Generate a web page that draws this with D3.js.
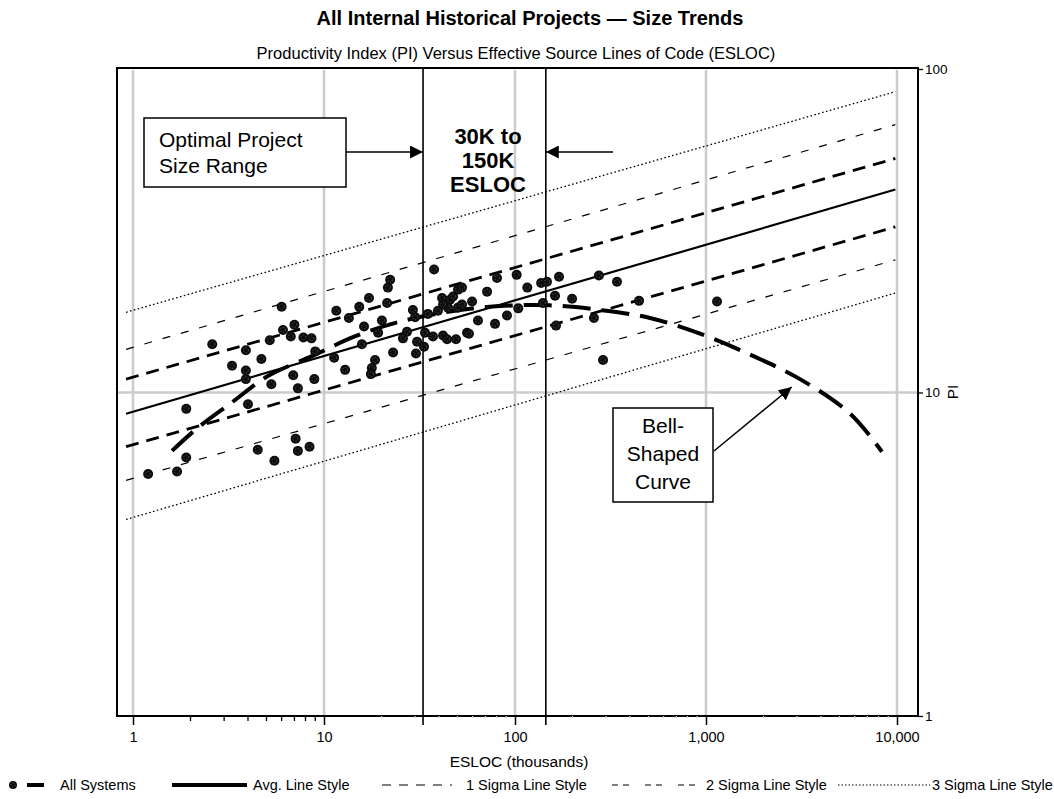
<!DOCTYPE html>
<html lang="en">
  <head>
    <meta charset="UTF-8"/>
    <title>All Internal Historical Projects — Size Trends</title>
    <script src="https://d3js.org/d3.v7.min.js"></script>
    <style>
      body { margin: 0; background: #fff; }
      text {
        font-family: 'Liberation Sans', Arial, sans-serif;
        fill: #000;
      }
      .title { font-size: 20px; font-weight: bold; }
      .subtitle { font-size: 16.5px; }
      .tick-label { font-size: 14.5px; }
      .y-label { font-size: 13.5px; }
      .axis-label { font-size: 15.5px; }
      .note { font-size: 21px; }
      .note-bold { font-size: 22px; font-weight: bold; }
      .legend text { font-size: 14.5px; }
    </style>
  </head>
  <body>
    <script type="text/javascript">

      // Trend lines: PI at the left and right end of the fitted range
      const trendX = [0.92, 9800]
      const avgLine = [8.6, 42.4]
      const sigma1Upper = [11.0, 52.9]
      const sigma1Lower = [6.8, 32.5]
      const sigma2Upper = [13.6, 67.3]
      const sigma2Lower = [5.35, 25.7]
      const sigma3Upper = [17.7, 85.1]
      const sigma3Lower = [4.05, 20.3]

      // Optimal project size range (thousands of ESLOC)
      const optimalRange = [33, 145]

      // Hand-drawn bell shaped curve [ESLOC, PI]
      const bellCurve = [
        [1.6, 6.6], [2.16, 7.74], [3.34, 9.38], [5.03, 11.2], [8.76, 13.0],
        [14.5, 14.9], [24.4, 16.5], [45.7, 17.8], [83.4, 18.5], [152, 18.6],
        [279, 18.0], [509, 17.0], [930, 15.2], [1700, 13.1], [3105, 11.0],
        [5674, 8.61], [8345, 6.56]
      ]

      // All systems [ESLOC (thousands), PI]
      const systems = [
        [6.0, 18.4], [7.0, 16.2], [6.1, 15.6], [6.7, 14.9], [7.8, 14.8],
        [8.6, 14.7], [5.2, 14.5], [2.6, 14.1], [3.9, 13.5], [4.7, 12.7],
        [9.0, 13.4], [3.3, 12.1], [3.9, 11.7], [3.9, 11.0], [6.9, 11.3],
        [8.9, 11.0], [5.3, 10.6], [7.3, 10.3], [1.9, 8.9], [4.0, 9.2],
        [7.1, 7.2], [8.4, 6.8], [7.3, 6.6], [4.5, 6.65], [5.5, 6.15],
        [1.9, 6.3], [1.7, 5.7], [1.2, 5.6],
        [37.7, 24.0], [22.2, 22.3], [21.6, 21.1], [17.2, 19.6], [21.4, 18.9],
        [11.6, 17.9], [15.3, 18.4], [13.5, 17.0], [20.1, 16.7], [16.2, 16.0],
        [19.2, 15.3], [15.8, 14.1], [11.3, 12.8], [12.9, 11.75], [18.5, 12.6],
        [17.8, 11.9], [17.6, 11.4], [23.0, 13.3], [27.2, 15.4], [25.9, 14.7],
        [30.7, 14.35], [30.3, 13.2], [33.8, 15.3], [33.4, 13.85], [37.2, 14.9],
        [42.0, 15.0], [44.1, 14.6], [49.1, 14.6], [56.1, 15.3], [29.2, 18.0],
        [30.0, 17.1], [35.0, 17.5], [39.5, 17.9], [41.5, 19.6], [45.7, 19.35],
        [50.3, 20.8], [47.4, 19.8], [44.6, 18.3], [50.3, 18.3], [52.8, 18.7],
        [42.0, 18.7],
        [80.5, 22.6], [102, 23.1], [137, 21.8], [147, 22.0], [170, 22.8],
        [275, 23.0], [342, 22.0], [116, 21.1], [71.4, 20.5], [52.8, 21.1],
        [59.6, 19.1], [162, 19.9], [199, 19.5], [140, 18.9], [104, 18.2],
        [90.8, 17.3], [64.0, 16.7], [78.6, 16.3], [57.4, 15.2], [164, 16.1],
        [259, 17.0], [289, 12.6], [446, 19.2], [1142, 19.1]
      ]

      const xTicks = [1, 10, 100, 1000, 10000]
      const yTicks = [1, 10, 100]
      const legendLabels = ["All Systems", "Avg. Line Style", "1 Sigma Line Style",
                            "2 Sigma Line Style", "3 Sigma Line Style"]

      const outerWidth = 1054,
            outerHeight = 799,
            frame = ({top: 68, right: 918, bottom: 716, left: 117})

      const svg = d3.select("body").append("svg")
          .attr("width", outerWidth)
          .attr("height", outerHeight)

      const x = d3.scaleLog().domain([1, 10000]).range([133, 897])
      const y = d3.scaleLog().domain([1, 100]).range([716, 69])

      const defs = svg.append("defs")
      defs.append("marker")
          .attr("id", "arrow")
          .attr("viewBox", "0 0 10 10")
          .attr("refX", 10).attr("refY", 5)
          .attr("markerWidth", 13).attr("markerHeight", 13)
          .attr("markerUnits", "userSpaceOnUse")
          .attr("orient", "auto")
        .append("path")
          .attr("d", "M0,0L10,5L0,10Z")
          .attr("fill", "#000")

      // titles
      svg.append("text").attr("class", "title")
          .attr("x", 530).attr("y", 25)
          .attr("text-anchor", "middle")
          .text("All Internal Historical Projects — Size Trends")

      svg.append("text").attr("class", "subtitle")
          .attr("x", 516).attr("y", 59)
          .attr("text-anchor", "middle")
          .text("Productivity Index (PI) Versus Effective Source Lines of Code (ESLOC)")

      // grid
      const grid = svg.append("g")
          .attr("stroke", "#cccccc")
          .attr("stroke-width", 2.5)
      grid.selectAll("line.gx")
        .data(xTicks)
        .join("line")
          .attr("class", "gx")
          .attr("x1", d => x(d)).attr("x2", d => x(d))
          .attr("y1", frame.top + 2).attr("y2", frame.bottom)
      grid.append("line")
          .attr("x1", frame.left).attr("x2", frame.right)
          .attr("y1", y(10)).attr("y2", y(10))

      // optimal range boundaries
      svg.append("g").selectAll("line")
        .data(optimalRange)
        .join("line")
          .attr("x1", d => x(d)).attr("x2", d => x(d))
          .attr("y1", frame.top).attr("y2", frame.bottom + 9)
          .attr("stroke", "#000")
          .attr("stroke-width", 1.6)

      // trend lines
      const lineStyles = {
        avg: {width: 2.2, dash: null},
        s1: {width: 2.8, dash: "13,8"},
        s2: {width: 1.2, dash: "8,11"},
        s3: {width: 1.3, dash: "1.6,2.4"}
      }
      const trends = [
        {values: sigma3Upper, style: "s3"}, {values: sigma3Lower, style: "s3"},
        {values: sigma2Upper, style: "s2"}, {values: sigma2Lower, style: "s2"},
        {values: sigma1Upper, style: "s1"}, {values: sigma1Lower, style: "s1"},
        {values: avgLine, style: "avg"}
      ]
      svg.append("g").selectAll("line")
        .data(trends)
        .join("line")
          .attr("x1", x(trendX[0])).attr("x2", x(trendX[1]))
          .attr("y1", d => y(d.values[0])).attr("y2", d => y(d.values[1]))
          .attr("stroke", "#000")
          .attr("stroke-width", d => lineStyles[d.style].width)
          .attr("stroke-dasharray", d => lineStyles[d.style].dash)

      // bell shaped curve
      const bellPath = d3.line()
          .x(d => x(d[0]))
          .y(d => y(d[1]))
          .curve(d3.curveCatmullRom)
      svg.append("path")
          .datum(bellCurve)
          .attr("d", bellPath)
          .attr("fill", "none")
          .attr("stroke", "#000")
          .attr("stroke-width", 4)
          .attr("stroke-dasharray", "28,11")

      // scatter markers
      const drawMarker = (g, r) => {
        g.append("circle").attr("r", r).attr("fill", "#0d0d0d")
        g.append("circle").attr("r", r * 0.5)
            .attr("fill", "none")
            .attr("stroke", "#888")
            .attr("stroke-width", 0.6)
            .attr("stroke-dasharray", "1,1.8")
      }
      svg.append("g").selectAll("g")
        .data(systems)
        .join("g")
          .attr("transform", d => `translate(${x(d[0])},${y(d[1])})`)
          .each(function() { drawMarker(d3.select(this), 5) })

      // frame
      svg.append("rect")
          .attr("x", frame.left).attr("y", frame.top)
          .attr("width", frame.right - frame.left)
          .attr("height", frame.bottom - frame.top)
          .attr("fill", "none")
          .attr("stroke", "#000")
          .attr("stroke-width", 2)

      // x axis
      const xAxis = g => g
          .attr("transform", `translate(0,${frame.bottom})`)
          .call(d3.axisBottom(x).tickValues(xTicks)
                .tickFormat(d3.format(",")).tickSize(9).tickPadding(7))
          .call(g => g.select(".domain").remove())
          .call(g => g.selectAll(".tick line").attr("stroke-width", 1.5))
          .call(g => g.selectAll(".tick text").attr("class", "tick-label")
                .attr("font-family", null).attr("font-size", null))
      svg.append("g").call(xAxis)

      const minor = x.ticks().filter(d => !xTicks.includes(d))
      svg.append("g").selectAll("line")
        .data(minor)
        .join("line")
          .attr("x1", d => x(d)).attr("x2", d => x(d))
          .attr("y1", frame.bottom).attr("y2", d => d < 10 ? frame.bottom + 5 : frame.bottom + 2)
          .attr("stroke", d => d < 10 ? "#000" : "#ccc")
          .attr("stroke-width", 1.3)

      svg.append("text").attr("class", "axis-label")
          .attr("x", 519).attr("y", 767)
          .attr("text-anchor", "middle")
          .text("ESLOC (thousands)")

      // right y axis
      const yAxis = g => g
          .attr("transform", `translate(${frame.right},0)`)
          .call(d3.axisRight(y).tickValues(yTicks).tickFormat(d3.format("d"))
                .tickSize(5).tickPadding(2))
          .call(g => g.select(".domain").remove())
          .call(g => g.selectAll(".tick line").attr("stroke-width", 1.3))
          .call(g => g.selectAll(".tick text").attr("class", "y-label")
                .attr("font-family", null).attr("font-size", null))
      svg.append("g").call(yAxis)

      svg.append("text").attr("class", "axis-label")
          .attr("transform", `translate(958,${(frame.top + frame.bottom) / 2}) rotate(-90)`)
          .attr("text-anchor", "middle")
          .text("PI")

      // annotation: optimal project size range
      const note = svg.append("g")
      note.append("rect")
          .attr("x", 144).attr("y", 118).attr("width", 202).attr("height", 69)
          .attr("fill", "#fff").attr("stroke", "#000").attr("stroke-width", 1.5)
      note.append("text").attr("class", "note").attr("x", 159).attr("y", 147).text("Optimal Project")
      note.append("text").attr("class", "note").attr("x", 159).attr("y", 173).text("Size Range")
      note.append("line")
          .attr("x1", 346).attr("y1", 152)
          .attr("x2", x(optimalRange[0])).attr("y2", 152)
          .attr("stroke", "#000").attr("stroke-width", 1.5)
          .attr("marker-end", "url(#arrow)")
      note.append("line")
          .attr("x1", 613).attr("y1", 152)
          .attr("x2", x(optimalRange[1])).attr("y2", 152)
          .attr("stroke", "#000").attr("stroke-width", 1.5)
          .attr("marker-end", "url(#arrow)")
      const rangeText = ["30K to", "150K", "ESLOC"]
      note.selectAll("text.range")
        .data(rangeText)
        .join("text")
          .attr("class", "note-bold range")
          .attr("x", 488)
          .attr("y", (d, i) => 144 + i * 23.8)
          .attr("text-anchor", "middle")
          .text(d => d)

      // annotation: bell shaped curve
      const bell = svg.append("g")
      bell.append("rect")
          .attr("x", 613).attr("y", 408).attr("width", 100).attr("height", 94)
          .attr("fill", "#fff").attr("stroke", "#000").attr("stroke-width", 1.5)
      bell.selectAll("text")
        .data(["Bell-", "Shaped", "Curve"])
        .join("text")
          .attr("class", "note")
          .attr("x", 663)
          .attr("y", (d, i) => 433 + i * 28)
          .attr("text-anchor", "middle")
          .text(d => d)
      bell.append("line")
          .attr("x1", 714).attr("y1", 451)
          .attr("x2", x(2810)).attr("y2", y(10.4))
          .attr("stroke", "#000").attr("stroke-width", 1.5)
          .attr("marker-end", "url(#arrow)")

      // legend
      const legendY = 785
      const legend = svg.append("g").attr("class", "legend")
      const legendText = [60, 253, 466, 706, 932]
      legend.selectAll("text")
        .data(legendLabels)
        .join("text")
          .attr("x", (d, i) => legendText[i])
          .attr("y", legendY + 5)
          .text(d => d)
      const m = legend.append("g").attr("transform", `translate(13,${legendY})`)
      drawMarker(m, 4)
      legend.append("line").attr("x1", 27).attr("x2", 44).attr("y1", legendY).attr("y2", legendY)
          .attr("stroke", "#000").attr("stroke-width", 4)
      legend.append("line").attr("x1", 172).attr("x2", 247).attr("y1", legendY).attr("y2", legendY)
          .attr("stroke", "#000").attr("stroke-width", 4)
      legend.append("line").attr("x1", 382).attr("x2", 452).attr("y1", legendY).attr("y2", legendY)
          .attr("stroke", "#000").attr("stroke-width", 1.2).attr("stroke-dasharray", "9,8")
      legend.append("line").attr("x1", 612).attr("x2", 703).attr("y1", legendY).attr("y2", legendY)
          .attr("stroke", "#000").attr("stroke-width", 1.2).attr("stroke-dasharray", "6,5,6,16")
      legend.append("line").attr("x1", 838).attr("x2", 930).attr("y1", legendY).attr("y2", legendY)
          .attr("stroke", "#000").attr("stroke-width", 1.2).attr("stroke-dasharray", "1.5,2")

    </script>
  </body>
</html>
